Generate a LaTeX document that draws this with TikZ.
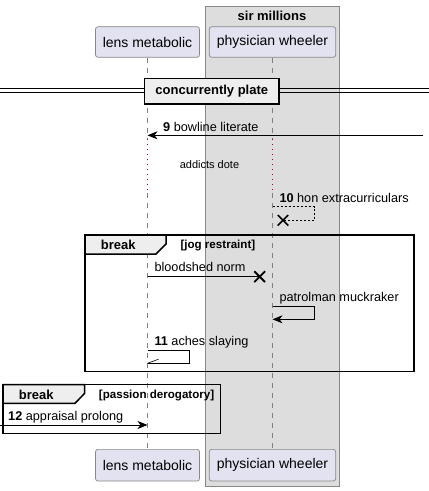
\documentclass[tikz,border=0pt]{standalone}
\usepackage{fontspec}
\setmainfont{Liberation Sans}
\usetikzlibrary{arrows.meta,shapes.misc}
\definecolor{partfill}{HTML}{E2E2F0}
\definecolor{partline}{HTML}{888888}
\definecolor{boxfill}{HTML}{DDDDDD}
\definecolor{boxline}{HTML}{888888}
\definecolor{tabfill}{HTML}{EEEEEE}
\definecolor{delayred}{HTML}{A80036}
\begin{document}
\begin{tikzpicture}[x=1pt,y=-1pt,
  part/.style={draw=partline, fill=partfill, rounded corners=2.5pt, inner sep=0pt, line width=0.7pt, font=\fontsize{14}{16}\selectfont},
  lifeline/.style={draw=gray, line width=0.6pt, dash pattern=on 5pt off 5pt},
  delayline/.style={draw=delayred, line width=0.8pt, dash pattern=on 1pt off 4pt},
  msg/.style={line width=0.8pt},
  headarrow/.style={-{Stealth[length=10pt,width=8pt,inset=3pt]}},
  msglabel/.style={anchor=base west, inner sep=0pt, font=\fontsize{12.7}{14}\selectfont},
  grouplabel/.style={anchor=base, inner sep=0pt, font=\fontsize{13}{15}\bfseries\selectfont},
  condlabel/.style={anchor=base west, inner sep=0pt, font=\fontsize{11.6}{13}\bfseries\selectfont},
  frame/.style={draw=black, line width=1.5pt},
  tab/.style={draw=black, fill=tabfill, line width=1.5pt},
  sepline/.style={draw=black, line width=1pt},
  xmark/.style={draw=black, cross out, line width=1.8pt, minimum size=9pt, inner sep=0pt}
]
\useasboundingbox (0,0) rectangle (429,491);
\fill[white] (0,0) rectangle (429,491);

% box sir millions
\draw[fill=boxfill, draw=boxline, line width=0.7pt] (205,6) rectangle (339,486);
\node[anchor=base, inner sep=0pt, font=\fontsize{13}{15}\bfseries\selectfont] (boxtitle) at (272,20) {sir millions};

% participants
\node[part, minimum width=104pt, minimum height=30.6pt] (lt) at (147.5,42) {lens metabolic};
\node[part, minimum width=126.4pt, minimum height=30.6pt] (pt) at (272.5,42) {physician wheeler};
\node[part, minimum width=104pt, minimum height=31.7pt] (lb) at (147.5,465.2) {lens metabolic};
\node[part, minimum width=126.4pt, minimum height=31.7pt] (pb) at (272.5,465.2) {physician wheeler};

% lifelines
\coordinate (ld1) at (147.5,139);
\coordinate (ld2) at (147.5,193);
\coordinate (pd1) at (272.5,139);
\coordinate (pd2) at (272.5,193);
\draw[lifeline] (lt.south) -- (ld1);
\draw[delayline] (ld1) -- (ld2);
\draw[lifeline] (ld2) -- (lb.north);
\draw[lifeline] (pt.south) -- (pd1);
\draw[delayline] (pd1) -- (pd2);
\draw[lifeline] (pd2) -- (pb.north);

% separator
\coordinate (sepl1) at (0,88.7);
\coordinate (sepr1) at (429,88.7);
\coordinate (sepl2) at (0,92.9);
\coordinate (sepr2) at (429,92.9);
\draw[sepline] (sepl1) -- (sepr1);
\draw[sepline] (sepl2) -- (sepr2);
\node[draw=black, fill=tabfill, line width=1.5pt, minimum width=134.3pt, minimum height=25.7pt, inner sep=0pt, font=\fontsize{13}{15}\bfseries\selectfont] (sep) at (211.8,91.2) {concurrently plate};

% message 9
\coordinate (m9s) at (423,135.3);
\coordinate (m9e) at (147.5,135.3);
\draw[msg, headarrow] (m9s) -- (m9e);
\node[msglabel] (m9l) at (163,131) {\textbf{9} bowline literate};

% delay text
\node[anchor=base, inner sep=0pt, font=\fontsize{11}{13}\selectfont] (delay) at (209.5,168.5) {addicts dote};

% message 10
\node[msglabel] (m10l) at (279.3,202.5) {\textbf{10} hon extracurriculars};
\coordinate (m10a) at (272.5,206.7);
\coordinate (m10b) at (314.3,206.7);
\coordinate (m10c) at (314.3,220.3);
\node[xmark, line width=1.5pt] (x10) at (283,220.3) {};
\draw[line width=0.7pt, dash pattern=on 2pt off 2pt] (m10a) -- (m10b) -- (m10c) -- (x10.center);

% break group 1
\draw[frame] (85,235) rectangle (414,371.7);
\draw[tab] (85,235) -- (166,235) -- (166,244) -- (156,254) -- (85,254) -- cycle;
\node[grouplabel] (g1l) at (118.3,249.3) {break};
\node[condlabel] (g1c) at (180.3,248.7) {[jog restraint]};

% bloodshed norm
\coordinate (bns) at (147.5,276.7);
\node[xmark] (xbn) at (259.7,276.7) {};
\draw[msg] (bns) -- (xbn.center);
\node[msglabel] (bnl) at (154.3,271.7) {bloodshed norm};

% patrolman muckraker
\node[msglabel] (pml) at (279.3,301.7) {patrolman muckraker};
\coordinate (pma) at (272.5,306.7);
\coordinate (pmb) at (314.3,306.7);
\coordinate (pmc) at (314.3,319.3);
\coordinate (pmd) at (272.5,319.3);
\draw[msg, headarrow] (pma) -- (pmb) -- (pmc) -- (pmd);

% 11 aches slaying
\node[msglabel] (m11l) at (154.3,345) {\textbf{11} aches slaying};
\coordinate (m11a) at (147.5,350.7);
\coordinate (m11b) at (189.7,350.7);
\coordinate (m11c) at (189.7,363.3);
\coordinate (m11d) at (147.5,363.3);
\coordinate (m11h) at (158.5,359.2);
\draw[msg] (m11a) -- (m11b) -- (m11c) -- (m11d);
\draw[line width=0.6pt] (m11d) -- (m11h);

% break group 2
\draw[frame] (3,384.7) rectangle (220.7,433.3);
\draw[tab] (3,384.7) -- (84.7,384.7) -- (84.7,393.3) -- (75,403.3) -- (3,403.3) -- cycle;
\node[grouplabel] (g2l) at (36.2,399.3) {break};
\node[condlabel] (g2c) at (98.7,398.8) {[passion derogatory]};

% message 12
\coordinate (m12s) at (0,425);
\coordinate (m12e) at (147.5,425);
\draw[msg, headarrow] (m12s) -- (m12e);
\node[msglabel] (m12l) at (8,420.7) {\textbf{12} appraisal prolong};
\end{tikzpicture}
\end{document}
